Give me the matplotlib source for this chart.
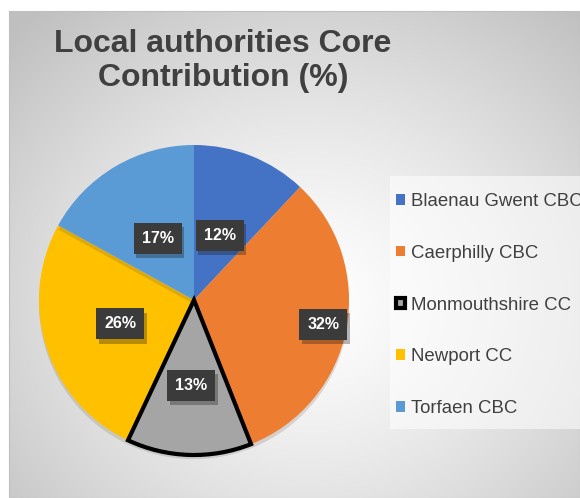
import numpy as np
import matplotlib
matplotlib.use("Agg")
import matplotlib.pyplot as plt
import matplotlib.patheffects as pe
from matplotlib.patches import Rectangle

plt.rcParams['font.family'] = ['Liberation Sans', 'DejaVu Sans']

# данные
authorities = ['Blaenau Gwent CBC', 'Caerphilly CBC', 'Monmouthshire CC',
               'Newport CC', 'Torfaen CBC']
shares = [12, 32, 13, 26, 17]
colors = ['#4472C4', '#ED7D31', '#A5A5A5', '#FFC000', '#5B9BD5']
label_dist = [0.45, 0.85, 0.55, 0.50, 0.46]

W, H = 580, 498
fig = plt.figure(figsize=(W / 100, H / 100), dpi=100)

# фон с радиальным градиентом
bg = fig.add_axes([9 / W, 0, 1 - 9 / W, (H - 11) / H])
yy, xx = np.mgrid[0:487, 0:571]
d = np.hypot((xx - 300) / 420, (yy - 290) / 380)
shade = 1 - 0.25 * np.clip(d, 0, 1) ** 1.3
bg.imshow(np.dstack([shade] * 3), aspect='auto', extent=(0, 1, 0, 1))
bg.set_xticks([])
bg.set_yticks([])
for s in bg.spines.values():
    s.set_color('#bfbfbf')

# круговая диаграмма
cx, cy, r = 194, 300, 155
ax = fig.add_axes([(cx - r) / W, (H - cy - r) / H, 2 * r / W, 2 * r / H])
wedges, _ = ax.pie(shares, colors=colors, startangle=90, counterclock=False,
                   wedgeprops=dict(linewidth=0))
wedges[2].set_edgecolor('black')
wedges[2].set_linewidth(3)
wedges[2].set_zorder(3)
for w in wedges:
    w.set_clip_on(False)
    w.set_path_effects([pe.SimplePatchShadow(offset=(0, -3), alpha=0.15),
                        pe.Normal()])
ax.set_xlim(-1, 1)
ax.set_ylim(-1, 1)
ax.set_aspect('equal')
ax.axis('off')

# подписи долей
for w, v, k in zip(wedges, shares, label_dist):
    ang = np.deg2rad((w.theta1 + w.theta2) / 2)
    t = ax.text(k * np.cos(ang), k * np.sin(ang), f'{v}%', ha='center', va='center',
                color='white', fontsize=11.5, fontweight='bold', zorder=5,
                bbox=dict(boxstyle='square,pad=0.5', facecolor='#3b3b3b',
                          edgecolor='none'))
    t.get_bbox_patch().set_path_effects([pe.SimplePatchShadow(offset=(2, -3), alpha=0.3),
                                         pe.Normal()])

# заголовок
fig.text(223 / W, 1 - 29 / H, 'Local authorities Core\nContribution (%)',
         ha='center', va='top', ma='center', fontsize=23, fontweight='bold',
         color='#404040', linespacing=1.18)

# легенда: подложка отдельно, сама легенда без рамки
fig.patches.append(Rectangle((390 / W, 1 - 429 / H), 1, (429 - 176) / H,
                             transform=fig.transFigure, facecolor='white',
                             alpha=0.55, edgecolor='none'))
leg = fig.legend(wedges, authorities, loc='upper left',
                 bbox_to_anchor=(396 / W, 1 - 193 / H), fontsize=13.4,
                 frameon=False, handlelength=0.5, handleheight=0.5,
                 handletextpad=0.28, labelspacing=1.87, borderpad=0,
                 borderaxespad=0)
for txt in leg.get_texts():
    txt.set_color('#404040')
for h in leg.legend_handles:
    h.set_path_effects([])

fig.savefig('out.png', dpi=100, facecolor='white')
